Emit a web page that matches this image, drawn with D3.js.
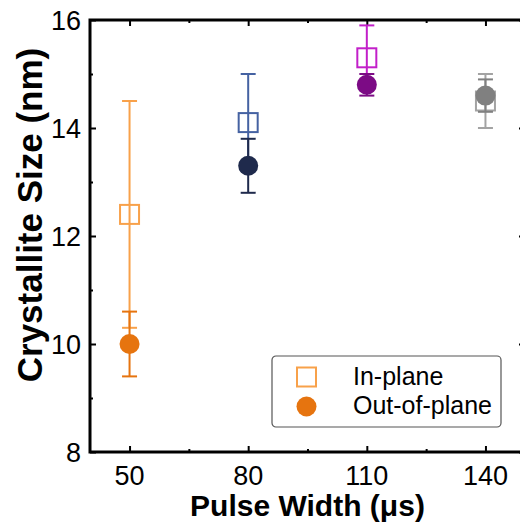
<!DOCTYPE html>
<html>
<head>
<meta charset="utf-8">
<script src="https://cdn.jsdelivr.net/npm/d3@7"></script>
<style>
  html, body { margin: 0; padding: 0; background: #fff; }
  svg { display: block; font-family: "Liberation Sans", Arial, sans-serif; }
</style>
</head>
<body>
<svg id="chart"></svg>
<script>
// data
const pulseWidths = [50, 80, 110, 140];
const inPlaneSize = [12.4, 14.1, 15.3, 14.5];
const inPlaneErr = [2.1, 0.9, 0.6, 0.5];
const outPlaneSize = [10.0, 13.3, 14.8, 14.6];
const outPlaneErr = [0.6, 0.5, 0.2, 0.3];
const xTicks = [50, 80, 110, 140];
const xMinorTicks = [65, 95, 125];
const yTicks = [8, 10, 12, 14, 16];
const yMinorTicks = [9, 11, 13, 15];
const seriesNames = ['In-plane', 'Out-of-plane'];

// colours per pulse width
const inColors = ['#f8a14a', '#4562a2', '#c21fc9', '#a3a3a3'];
const outColors = ['#e6740f', '#1f2a4c', '#7c0b85', '#808080'];

const width = 520, height = 523;
const margin = {left: 90, right: -5, top: 20, bottom: 71};

const svg = d3.select('#chart')
    .attr('width', width)
    .attr('height', height);

const xScale = d3.scaleLinear()
    .domain([40, 150])
    .range([margin.left, width - margin.right]);
const yScale = d3.scaleLinear()
    .domain([8, 16])
    .range([height - margin.bottom, margin.top]);

const x0 = xScale.range()[0], x1 = xScale.range()[1];
const y0 = yScale.range()[0], y1 = yScale.range()[1];

// inward ticks on all four sides
function tickAxis(axisFn, scale, values, size, tr) {
    svg.append('g')
        .attr('transform', tr)
        .call(axisFn(scale).tickValues(values).tickSize(-size).tickFormat(''))
        .call(g => g.select('.domain').remove())
        .call(g => g.selectAll('line').attr('stroke', '#000').attr('stroke-width', 2));
}
tickAxis(d3.axisBottom, xScale, xTicks, 6, `translate(0,${y0})`);
tickAxis(d3.axisBottom, xScale, xMinorTicks, 3, `translate(0,${y0})`);
tickAxis(d3.axisTop, xScale, xTicks, 6, `translate(0,${y1})`);
tickAxis(d3.axisTop, xScale, xMinorTicks, 3, `translate(0,${y1})`);
tickAxis(d3.axisLeft, yScale, yTicks, 6, `translate(${x0},0)`);
tickAxis(d3.axisLeft, yScale, yMinorTicks, 3, `translate(${x0},0)`);
tickAxis(d3.axisRight, yScale, yTicks, 6, `translate(${x1},0)`);
tickAxis(d3.axisRight, yScale, yMinorTicks, 3, `translate(${x1},0)`);

// frame
svg.append('rect')
    .attr('x', x0).attr('y', y1)
    .attr('width', x1 - x0).attr('height', y0 - y1)
    .attr('fill', 'none')
    .attr('stroke', '#000')
    .attr('stroke-width', 3);

// tick labels
svg.append('g')
    .selectAll('text')
    .data(xTicks)
    .join('text')
    .attr('x', d => xScale(d))
    .attr('y', y0 + 33)
    .attr('text-anchor', 'middle')
    .attr('font-size', 27)
    .text(d => d);

svg.append('g')
    .selectAll('text')
    .data(yTicks)
    .join('text')
    .attr('x', x0 - 9)
    .attr('y', d => yScale(d) + 10)
    .attr('text-anchor', 'end')
    .attr('font-size', 27)
    .text(d => d);

// axis titles
svg.append('text')
    .attr('x', 307.5)
    .attr('y', 516)
    .attr('text-anchor', 'middle')
    .attr('font-size', 30)
    .attr('font-weight', 'bold')
    .text('Pulse Width (μs)');

svg.append('text')
    .attr('transform', 'translate(42,215) rotate(-90)')
    .attr('text-anchor', 'middle')
    .attr('font-size', 35)
    .attr('font-weight', 'bold')
    .text('Crystallite Size (nm)');

// error bars + markers
function drawSeries(vals, errs, colors, marker) {
    const pts = pulseWidths.map((p, i) => ({x: p, y: vals[i], e: errs[i], c: colors[i]}));
    const g = svg.append('g');
    const bars = g.selectAll('g.err').data(pts).join('g').attr('class', 'err');
    bars.append('line')
        .attr('x1', d => xScale(d.x)).attr('x2', d => xScale(d.x))
        .attr('y1', d => yScale(d.y - d.e)).attr('y2', d => yScale(d.y + d.e))
        .attr('stroke', d => d.c).attr('stroke-width', 2);
    [-1, 1].forEach(s => {
        bars.append('line')
            .attr('x1', d => xScale(d.x) - 7.5).attr('x2', d => xScale(d.x) + 7.5)
            .attr('y1', d => yScale(d.y + s * d.e)).attr('y2', d => yScale(d.y + s * d.e))
            .attr('stroke', d => d.c).attr('stroke-width', 2);
    });
    if (marker === 'square') {
        g.selectAll('rect').data(pts).join('rect')
            .attr('x', d => xScale(d.x) - 9.5).attr('y', d => yScale(d.y) - 9.5)
            .attr('width', 19).attr('height', 19)
            .attr('fill', 'none')
            .attr('stroke', d => d.c).attr('stroke-width', 2);
    } else {
        g.selectAll('circle').data(pts).join('circle')
            .attr('cx', d => xScale(d.x)).attr('cy', d => yScale(d.y))
            .attr('r', 10)
            .attr('fill', d => d.c);
    }
}
drawSeries(inPlaneSize, inPlaneErr, inColors, 'square');
drawSeries(outPlaneSize, outPlaneErr, outColors, 'circle');

// legend
const legend = svg.append('g').attr('transform', 'translate(272,356)');
legend.append('rect')
    .attr('width', 229).attr('height', 71)
    .attr('rx', 4)
    .attr('fill', '#fff')
    .attr('stroke', '#555')
    .attr('stroke-width', 1.2);
legend.append('rect')
    .attr('x', 25).attr('y', 11.5)
    .attr('width', 19).attr('height', 19)
    .attr('fill', 'none')
    .attr('stroke', inColors[0]).attr('stroke-width', 2);
legend.append('circle')
    .attr('cx', 34.5).attr('cy', 50.5)
    .attr('r', 10)
    .attr('fill', outColors[0]);
legend.selectAll('text.lbl')
    .data(seriesNames)
    .join('text')
    .attr('class', 'lbl')
    .attr('x', 81)
    .attr('y', (d, i) => 29 + i * 29)
    .attr('font-size', 25)
    .text(d => d);
</script>
</body>
</html>
